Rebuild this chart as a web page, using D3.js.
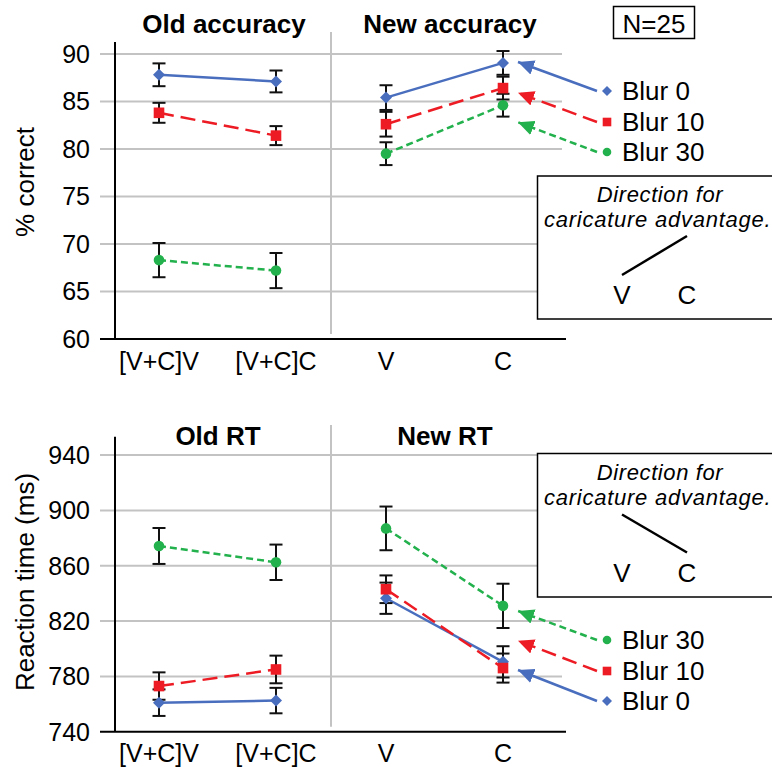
<!DOCTYPE html>
<html><head><meta charset="utf-8">
<script src="https://cdn.jsdelivr.net/npm/d3@7"></script>
<style>
html,body{margin:0;padding:0;background:#fff;}
text{font-family:"Liberation Sans",Arial,Helvetica,sans-serif;fill:#000;}
</style></head>
<body>
<svg id="chart" width="772" height="767"></svg>
<script>
// ---------- data ----------
const oldCats = ["[V+C]V", "[V+C]C"];
const newCats = ["V", "C"];
const seriesNames = ["Blur 0", "Blur 10", "Blur 30"];

const oldAcc0 = [87.8, 87.1],  oldAcc0Err = [1.2, 1.15];
const oldAcc10 = [83.8, 81.4], oldAcc10Err = [1.05, 1.0];
const oldAcc30 = [68.3, 67.2], oldAcc30Err = [1.8, 1.85];
const newAcc0 = [85.4, 89.05], newAcc0Err = [1.3, 1.25];
const newAcc10 = [82.6, 86.4], newAcc10Err = [1.3, 1.2];
const newAcc30 = [79.5, 84.6], newAcc30Err = [1.2, 1.2];

const oldRT0 = [761, 762.5],  oldRT0Err = [9.6, 9.2];
const oldRT10 = [773, 785],   oldRT10Err = [9.9, 10];
const oldRT30 = [874.3, 862.5], oldRT30Err = [13, 12.8];
const newRT0 = [836.5, 790.5], newRT0Err = [11.3, 11.3];
const newRT10 = [843, 786],    newRT10Err = [10, 10.5];
const newRT30 = [887, 831],    newRT30Err = [15.8, 16];

const accTicks = [60, 65, 70, 75, 80, 85, 90];
const rtTicks = [740, 780, 820, 860, 900, 940];

// arrow target values (data units) at the "C" column, per series
const accArrowTargets = [89.15, 85.9, 82.8];
const rtArrowTargets = [784.6, 805.8, 827.3];

// ---------- styles ----------
const colors = ["#4a6ebe", "#ed1c24", "#22b14c"];
const dashes = [null, "15,7", "7,4"];
const shapes = ["diamond", "square", "circle"];

const svg = d3.select("#chart");
const defs = svg.append("defs");
colors.forEach((c, i) => {
  defs.append("marker").attr("id", "arr" + i)
    .attr("viewBox", "0 -7.5 16 15").attr("refX", 16).attr("refY", 0)
    .attr("markerWidth", 16).attr("markerHeight", 15)
    .attr("markerUnits", "userSpaceOnUse").attr("orient", "auto")
    .append("path").attr("d", "M0,-7.5L16,0L0,7.5Z").attr("fill", c);
});

function drawMarker(g, shape, x, y, s, color) {
  if (shape === "diamond") {
    g.append("path").attr("d", `M${x},${y - s}L${x + s},${y}L${x},${y + s}L${x - s},${y}Z`).attr("fill", color);
  } else if (shape === "square") {
    g.append("rect").attr("x", x - s).attr("y", y - s).attr("width", 2 * s).attr("height", 2 * s).attr("fill", color);
  } else {
    g.append("circle").attr("cx", x).attr("cy", y).attr("r", s).attr("fill", color);
  }
}

function drawChart(cfg) {
  const g = svg.append("g");
  const y = d3.scaleLinear().domain(cfg.domain).range([cfg.bottom, cfg.top]);
  const xL = d3.scalePoint().domain(oldCats).range([159, 276]);
  const xR = d3.scalePoint().domain(newCats).range([386, 503]);

  // gridlines
  g.selectAll(".grid").data(cfg.ticks.slice(1)).join("line")
    .attr("x1", 100).attr("x2", 562).attr("y1", d => y(d)).attr("y2", d => y(d))
    .attr("stroke", "#c3c3c3").attr("stroke-width", 2);
  // separator
  g.append("line").attr("x1", 331).attr("x2", 331).attr("y1", cfg.sepTop).attr("y2", cfg.bottom - 5)
    .attr("stroke", "#c3c3c3").attr("stroke-width", 2);
  // axes
  g.append("line").attr("x1", 115).attr("x2", 115).attr("y1", cfg.top).attr("y2", cfg.bottom)
    .attr("stroke", "#000").attr("stroke-width", 2);
  g.append("line").attr("x1", 100).attr("x2", 566).attr("y1", cfg.bottom).attr("y2", cfg.bottom)
    .attr("stroke", "#000").attr("stroke-width", 2);
  // tick labels
  g.selectAll(".tl").data(cfg.ticks).join("text")
    .attr("x", 90).attr("y", d => y(d) + 9).attr("text-anchor", "end")
    .attr("font-size", 25).text(d => d);
  // x labels
  oldCats.forEach(c => g.append("text").attr("x", xL(c)).attr("y", cfg.xLabelY)
    .attr("text-anchor", "middle").attr("font-size", 25).text(c));
  newCats.forEach(c => g.append("text").attr("x", xR(c)).attr("y", cfg.xLabelY)
    .attr("text-anchor", "middle").attr("font-size", 25).text(c));
  // titles
  g.append("text").attr("x", cfg.titleL[1]).attr("y", cfg.titleY).attr("text-anchor", "middle")
    .attr("font-size", 26).attr("font-weight", "bold").text(cfg.titleL[0]);
  g.append("text").attr("x", cfg.titleR[1]).attr("y", cfg.titleY).attr("text-anchor", "middle")
    .attr("font-size", 26).attr("font-weight", "bold").text(cfg.titleR[0]);
  // y label
  g.append("text").attr("transform", `translate(${cfg.yLabelX},${cfg.yLabelY}) rotate(-90)`)
    .attr("text-anchor", "middle").attr("font-size", 26).text(cfg.yLabel);

  const line = d3.line().x(d => d[0]).y(d => d[1]);
  const panels = [[cfg.oldSeries, cfg.oldErr, xL, oldCats], [cfg.newSeries, cfg.newErr, xR, newCats]];
  // lines
  panels.forEach(([ser, err, x, cats]) => {
    ser.forEach((vals, i) => {
      g.append("path").attr("d", line(vals.map((v, k) => [x(cats[k]), y(v)])))
        .attr("fill", "none").attr("stroke", colors[i]).attr("stroke-width", 2.5)
        .attr("stroke-dasharray", dashes[i]);
    });
  });
  // error bars
  panels.forEach(([ser, err, x, cats]) => {
    ser.forEach((vals, i) => {
      vals.forEach((v, k) => {
        const cx = x(cats[k]), lo = y(v - err[i][k]), hi = y(v + err[i][k]);
        g.append("line").attr("x1", cx).attr("x2", cx).attr("y1", lo).attr("y2", hi).attr("stroke", "#111").attr("stroke-width", 2);
        [lo, hi].forEach(yy => g.append("line").attr("x1", cx - 6.5).attr("x2", cx + 6.5).attr("y1", yy).attr("y2", yy)
          .attr("stroke", "#111").attr("stroke-width", 2));
      });
    });
  });
  // markers
  panels.forEach(([ser, err, x, cats]) => {
    ser.forEach((vals, i) => {
      vals.forEach((v, k) => drawMarker(g, shapes[i], x(cats[k]), y(v), i === 0 ? 6 : 5.3, colors[i]));
    });
  });
  // legend + arrows
  cfg.legendOrder.forEach((i, j) => {
    const ly = cfg.legendY[j];
    g.append("line").attr("x1", 597).attr("y1", ly).attr("x2", xR("C") + 15).attr("y2", y(cfg.arrowTargets[i]))
      .attr("stroke", colors[i]).attr("stroke-width", 2.5).attr("stroke-dasharray", dashes[i])
      .attr("marker-end", `url(#arr${i})`);
    drawMarker(g, shapes[i], 607, ly, i === 0 ? 5 : 4.3, colors[i]);
    g.append("text").attr("x", 622).attr("y", ly + 9).attr("font-size", 26).text(seriesNames[i]);
  });
  // inset box
  const b = g.append("g");
  b.append("rect").attr("x", 537.5).attr("y", cfg.box[0]).attr("width", 260).attr("height", cfg.box[1])
    .attr("fill", "#fff").attr("stroke", "#000").attr("stroke-width", 1.5);
  b.append("text").attr("x", 660).attr("y", cfg.box[0] + 26).attr("text-anchor", "middle")
    .attr("font-size", 22).attr("letter-spacing", 0.6).attr("font-style", "italic").text("Direction for");
  b.append("text").attr("x", 544).attr("y", cfg.box[0] + 51)
    .attr("font-size", 22).attr("letter-spacing", 0.75).attr("font-style", "italic").text("caricature advantage.");
  b.append("line").attr("x1", 622).attr("y1", cfg.box[0] + cfg.slope[0]).attr("x2", 687).attr("y2", cfg.box[0] + cfg.slope[1])
    .attr("stroke", "#000").attr("stroke-width", 2.5);
  b.append("text").attr("x", 622).attr("y", cfg.box[0] + cfg.box[1] - 15).attr("text-anchor", "middle").attr("font-size", 26).text("V");
  b.append("text").attr("x", 687).attr("y", cfg.box[0] + cfg.box[1] - 15).attr("text-anchor", "middle").attr("font-size", 26).text("C");
}

drawChart({
  domain: [60, 91.25], top: 42, bottom: 339, sepTop: 32, ticks: accTicks,
  xLabelY: 370, titleY: 33, titleL: ["Old accuracy", 224], titleR: ["New accuracy", 450],
  yLabel: "% correct", yLabelX: 34, yLabelY: 182,
  oldSeries: [oldAcc0, oldAcc10, oldAcc30], oldErr: [oldAcc0Err, oldAcc10Err, oldAcc30Err],
  newSeries: [newAcc0, newAcc10, newAcc30], newErr: [newAcc0Err, newAcc10Err, newAcc30Err],
  legendOrder: [0, 1, 2], legendY: [91, 122, 152], arrowTargets: accArrowTargets,
  box: [176, 143], slope: [99, 60]
});
drawChart({
  domain: [740, 953.3], top: 436.7, bottom: 731.7, sepTop: 425, ticks: rtTicks,
  xLabelY: 762, titleY: 445, titleL: ["Old RT", 218], titleR: ["New RT", 445],
  yLabel: "Reaction time (ms)", yLabelX: 34, yLabelY: 582,
  oldSeries: [oldRT0, oldRT10, oldRT30], oldErr: [oldRT0Err, oldRT10Err, oldRT30Err],
  newSeries: [newRT0, newRT10, newRT30], newErr: [newRT0Err, newRT10Err, newRT30Err],
  legendOrder: [2, 1, 0], legendY: [640, 671, 701], arrowTargets: rtArrowTargets,
  box: [453.5, 143.5], slope: [61, 99]
});

// N=25 box
svg.append("rect").attr("x", 613.5).attr("y", 6.5).attr("width", 81).attr("height", 32)
  .attr("fill", "none").attr("stroke", "#000").attr("stroke-width", 1.5);
svg.append("text").attr("x", 654).attr("y", 33).attr("text-anchor", "middle").attr("font-size", 26).text("N=25");
</script>
</body></html>
